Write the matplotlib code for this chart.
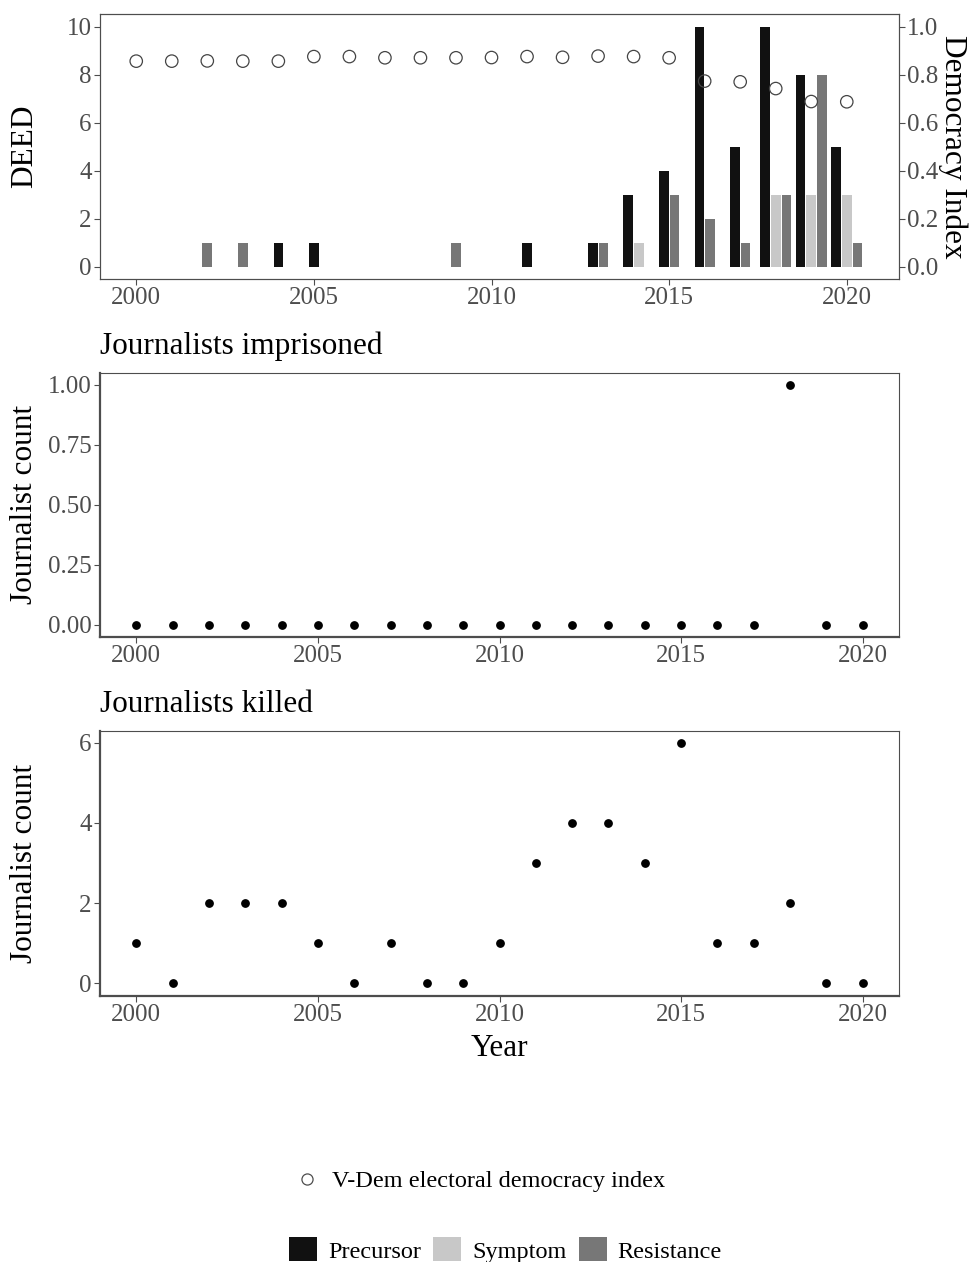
import matplotlib
matplotlib.use("Agg")
import matplotlib.pyplot as plt
from matplotlib.lines import Line2D
from matplotlib.patches import Patch

plt.rcParams['font.family'] = ['Liberation Serif', 'DejaVu Serif']

years = list(range(2000, 2021))

# DEED event counts per year, by type (zero = no bar)
precursor = [0, 0, 0, 0, 1, 1, 0, 0, 0, 0, 0, 1, 0, 1, 3, 4, 10, 5, 10, 8, 5]
symptom = [0, 0, 0, 0, 0, 0, 0, 0, 0, 0, 0, 0, 0, 0, 1, 0, 0, 0, 3, 3, 3]
resistance = [0, 0, 1, 1, 0, 0, 0, 0, 0, 1, 0, 0, 0, 1, 0, 3, 2, 1, 3, 8, 1]

# V-Dem electoral democracy index
vdem = [0.856, 0.856, 0.857, 0.856, 0.856, 0.875, 0.875, 0.870, 0.870, 0.870,
        0.871, 0.875, 0.872, 0.877, 0.875, 0.870, 0.773, 0.770, 0.742, 0.688,
        0.687]

imprisoned = [0] * 18 + [1, 0, 0]
killed = [1, 0, 2, 2, 2, 1, 0, 1, 0, 0, 1, 3, 4, 4, 3, 6, 1, 1, 2, 0, 0]

categories = ['Precursor', 'Symptom', 'Resistance']
colors = {'Precursor': '#111111', 'Symptom': '#c8c8c8', 'Resistance': '#777777'}
series = {'Precursor': precursor, 'Symptom': symptom, 'Resistance': resistance}

GREY = '#4d4d4d'
TICK_FS = 18
TITLE_FS = 22.5
W, H = 971, 1262
fig = plt.figure(figsize=(W / 100, H / 100), dpi=100)


def px_axes(left, top, right, bottom):
    return fig.add_axes([left / W, 1 - bottom / H, (right - left) / W, (bottom - top) / H])


def style(ax, thick=False):
    for side in ['top', 'right', 'left', 'bottom']:
        ax.spines[side].set_color(GREY)
        ax.spines[side].set_linewidth(0.8)
    if thick:
        ax.spines['left'].set_linewidth(1.6)
        ax.spines['bottom'].set_linewidth(1.6)
    ax.tick_params(colors=GREY, labelcolor=GREY, labelsize=TICK_FS, length=4, width=0.8, pad=2)
    ax.set_xticks(range(2000, 2021, 5))


ax1 = px_axes(100, 14.5, 899, 279)
ax2 = px_axes(100, 372.5, 899, 636.5)
ax3 = px_axes(100, 730.5, 899, 995.5)

# top panel: dodged bars (ggplot dodge2, preserve single)
for i, yr in enumerate(years):
    present = [c for c in categories if series[c][i] > 0]
    n = len(present)
    for j, c in enumerate(present):
        ax1.bar(yr + (j - (n - 1) / 2) * 0.3, series[c][i], width=0.27,
                color=colors[c], linewidth=0)
style(ax1)
ax1.set_xlim(1998.98, 2021.47)
ax1.set_ylim(-0.5, 10.5)
ax1.set_yticks(range(0, 11, 2))
ax1.set_ylabel('DEED', fontsize=TITLE_FS)

axr = ax1.twinx()
axr.scatter(years, vdem, s=80, facecolors='none', edgecolors='#444444', linewidths=0.9, zorder=3)
axr.set_ylim(-0.05, 1.05)
axr.set_yticks([0, 0.2, 0.4, 0.6, 0.8, 1.0])
axr.set_yticklabels(['0.0', '0.2', '0.4', '0.6', '0.8', '1.0'])
style(axr)
axr.set_ylabel('Democracy Index', fontsize=TITLE_FS, rotation=-90, va='bottom')
axr.yaxis.set_label_coords(1.0488, 0.5)

# journalists imprisoned
ax2.scatter(years, imprisoned, s=28, color='black', zorder=3)
style(ax2, thick=True)
ax2.set_xlim(1999, 2021)
ax2.set_ylim(-0.05, 1.05)
ax2.set_yticks([0, 0.25, 0.5, 0.75, 1.0])
ax2.set_yticklabels(['0.00', '0.25', '0.50', '0.75', '1.00'])
ax2.set_ylabel('Journalist count', fontsize=TITLE_FS)
ax2.set_title('Journalists imprisoned', loc='left', fontsize=TITLE_FS, pad=13)

# journalists killed
ax3.scatter(years, killed, s=28, color='black', zorder=3)
style(ax3, thick=True)
ax3.set_xlim(1999, 2021)
ax3.set_ylim(-0.3, 6.3)
ax3.set_yticks(range(0, 7, 2))
ax3.set_ylabel('Journalist count', fontsize=TITLE_FS)
ax3.set_xlabel('Year', fontsize=TITLE_FS, labelpad=6)
ax3.set_title('Journalists killed', loc='left', fontsize=TITLE_FS, pad=13)

for ax in (ax1, ax2, ax3):
    ax.yaxis.set_label_coords(-0.0765, 0.5)

# legends
h1 = [Line2D([], [], marker='o', linestyle='none', markersize=8, markerfacecolor='none',
             markeredgecolor=GREY, markeredgewidth=0.9)]
fig.legend(h1, ['V-Dem electoral democracy index'], loc='center',
           bbox_to_anchor=(480 / W, 1 - 1181 / H), frameon=False, fontsize=17.5,
           handlelength=1.0, handletextpad=0.55)

h2 = [Patch(facecolor=colors[c], edgecolor='none') for c in categories]
fig.legend(h2, categories, loc='center', bbox_to_anchor=(505.5 / W, 1 - 1250 / H),
           frameon=False, fontsize=17.5, ncol=3, handlelength=1.15, handleheight=1.15,
           handletextpad=0.45, columnspacing=0.5)

fig.savefig('out.png', dpi=100)
